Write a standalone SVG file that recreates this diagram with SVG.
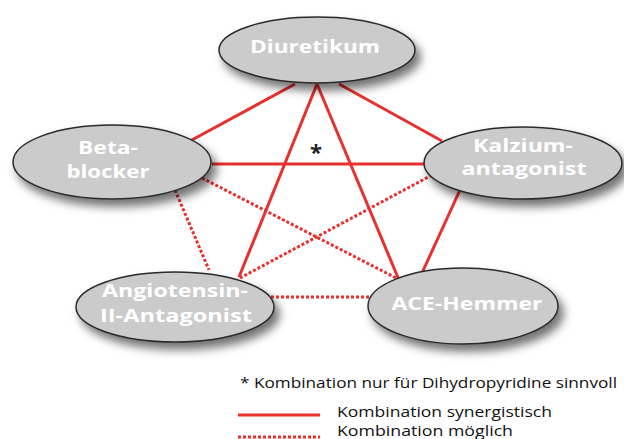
<svg xmlns="http://www.w3.org/2000/svg" width="624" height="439" viewBox="0 0 624 439">
<defs>
<filter id="sh" x="-20%" y="-30%" width="150%" height="180%">
<feDropShadow dx="5" dy="7" stdDeviation="5" flood-color="#000" flood-opacity="0.55"/>
</filter>
</defs>
<style>
.node{fill:#cbcbcb;stroke:#2a2a2a;stroke-width:1.5;filter:url(#sh)}
.lbl{fill:#fff;font-family:"Open Sans","Noto Sans",sans-serif;font-weight:700;font-size:18.5px;text-anchor:middle}
.syn{stroke:#e8302f;stroke-width:3;fill:none}
.pos{stroke:#e8302f;stroke-width:3;fill:none;stroke-dasharray:3 2}
.leg{fill:#111;font-family:"Open Sans","Noto Sans",sans-serif;font-size:15px}
</style>
<rect width="624" height="439" fill="#fff"/>
<g id="connectors">
<line class="syn" x1="295" y1="84" x2="190" y2="141"/>
<line class="syn" x1="339" y1="84" x2="442" y2="141"/>
<line class="syn" x1="317" y1="84" x2="239" y2="277"/>
<line class="syn" x1="317" y1="84" x2="399" y2="280"/>
<line class="syn" x1="212" y1="164" x2="424" y2="164"/>
<line class="syn" x1="460" y1="190" x2="422" y2="273"/>
<line class="pos" x1="175" y1="190" x2="209" y2="270"/>
<line class="pos" x1="202" y1="178" x2="398" y2="279"/>
<line class="pos" x1="432" y1="175" x2="240" y2="278"/>
<line class="pos" x1="271" y1="297" x2="373" y2="297"/>
<text x="316" y="160" font-family="Open Sans, sans-serif" font-weight="700" font-size="22" text-anchor="middle" fill="#222">*</text>
</g>
<g id="diuretikum">
<ellipse class="node" cx="317" cy="50" rx="98" ry="33"/>
<text class="lbl" x="315" y="53" textLength="130" lengthAdjust="spacingAndGlyphs">Diuretikum</text>
</g>
<g id="betablocker">
<ellipse class="node" cx="112" cy="162" rx="99" ry="37"/>
<text class="lbl" x="108" y="154" textLength="60" lengthAdjust="spacingAndGlyphs">Beta-</text>
<text class="lbl" x="108" y="178" textLength="83" lengthAdjust="spacingAndGlyphs">blocker</text>
</g>
<g id="kalziumantagonist">
<ellipse class="node" cx="523" cy="163" rx="99" ry="36"/>
<text class="lbl" x="523" y="152" textLength="100" lengthAdjust="spacingAndGlyphs">Kalzium-</text>
<text class="lbl" x="524" y="175" textLength="125" lengthAdjust="spacingAndGlyphs">antagonist</text>
</g>
<g id="angiotensin">
<ellipse class="node" cx="175" cy="307" rx="99" ry="35"/>
<text class="lbl" x="175" y="297" textLength="146" lengthAdjust="spacingAndGlyphs">Angiotensin-</text>
<text class="lbl" x="176" y="322" textLength="152" lengthAdjust="spacingAndGlyphs">II-Antagonist</text>
</g>
<g id="acehemmer">
<ellipse class="node" cx="463" cy="306" rx="95" ry="38"/>
<text class="lbl" x="467" y="310" textLength="151" lengthAdjust="spacingAndGlyphs">ACE-Hemmer</text>
</g>
<g id="legend">
<text class="leg" x="240" y="388" textLength="377" lengthAdjust="spacingAndGlyphs">* Kombination nur für Dihydropyridine sinnvoll</text>
<line class="syn" x1="238" y1="415" x2="320" y2="415"/>
<text class="leg" x="337" y="417" textLength="215" lengthAdjust="spacingAndGlyphs">Kombination synergistisch</text>
<line class="pos" x1="238" y1="437" x2="320" y2="437"/>
<text class="leg" x="337" y="436" textLength="176" lengthAdjust="spacingAndGlyphs">Kombination möglich</text>
</g>
</svg>
